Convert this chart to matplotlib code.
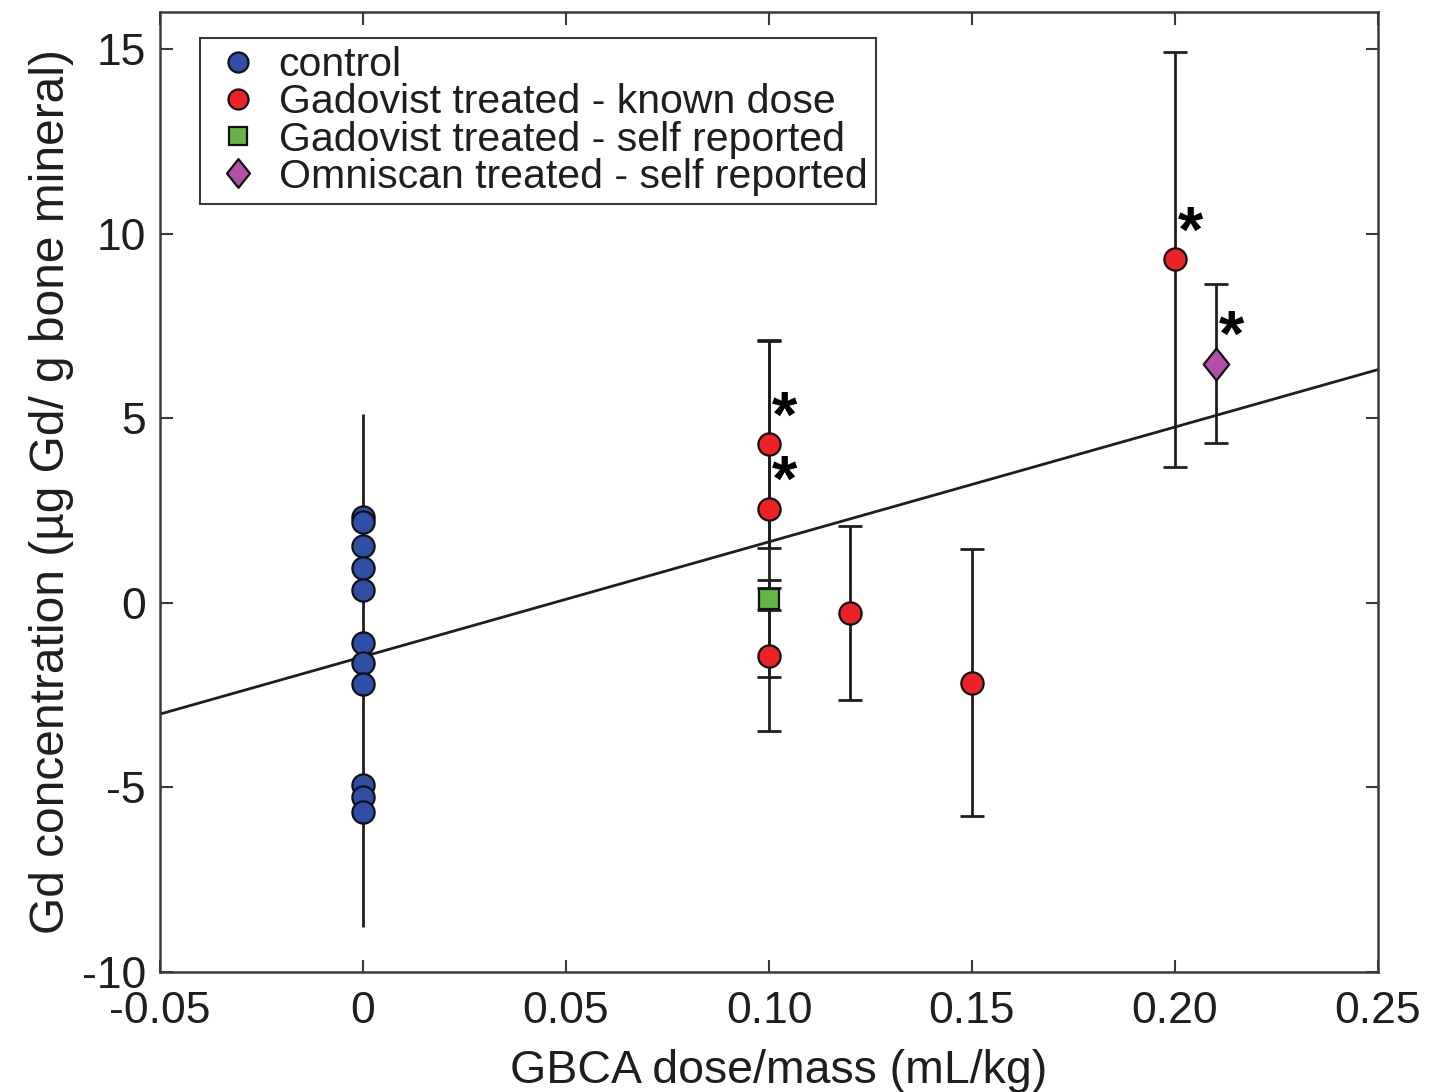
import matplotlib
matplotlib.use("Agg")
import matplotlib.pyplot as plt
from matplotlib.path import Path
import numpy as np

plt.rcParams['font.family'] = ['Liberation Sans', 'DejaVu Sans']

# ---------------- data ----------------
control_x = [0, 0, 0, 0, 0, 0, 0, 0, 0, 0, 0]
control_y = [2.32, 2.19, 1.54, 0.94, 0.35, -1.08, -1.62, -2.21, -4.94, -5.26, -5.68]
control_err_low = -8.78
control_err_high = 5.10

known_x = [0.10, 0.10, 0.10, 0.12, 0.15, 0.20]
known_y = [4.29, 2.55, -1.43, -0.27, -2.16, 9.30]
known_err = [2.80, 4.57, 2.05, 2.35, 3.62, 5.62]

gado_self_x = [0.10]
gado_self_y = [0.11]
gado_self_err = [0.30]

omni_x = [0.21]
omni_y = [6.47]
omni_err = [2.15]

fit_slope = 31.1
fit_intercept = -1.46

# points marked with a star (x, y)
star_x = [0.10, 0.10, 0.20, 0.21]
star_y = [4.29, 2.55, 9.30, 6.47]

xticks = [-0.05, 0, 0.05, 0.10, 0.15, 0.20, 0.25]
xticklabels = ['-0.05', '0', '0.05', '0.10', '0.15', '0.20', '0.25']
yticks = [-10, -5, 0, 5, 10, 15]
yticklabels = ['-10', '-5', '0', '5', '10', '15']

legend_labels = ['control', 'Gadovist treated - known dose',
                 'Gadovist treated - self reported', 'Omniscan treated - self reported']

# ---------------- styles ----------------
c_blue = '#2F4FA6'
c_red = '#EC2226'
c_green = '#64B446'
c_purple = '#B24FA6'
ink = '#1e1e1e'
frame = '#3a3a3a'

fig = plt.figure(figsize=(14.49, 10.92), dpi=100)
ax = fig.add_axes([160/1449, 1 - 972/1092, 1218/1449, 960/1092])

# regression line
xl = np.array([-0.05, 0.25])
ax.plot(xl, fit_intercept + fit_slope * xl, color=ink, lw=2.0, zorder=2)

ebkw = dict(ecolor=ink, elinewidth=2.0, capsize=8.5, capthick=2.0, linestyle='none')

# control group error bar (no caps)
ax.vlines(0, control_err_low, control_err_high, color=ink, lw=2.0, zorder=1)

ax.errorbar(known_x, known_y, yerr=known_err, fmt='none', zorder=1, **ebkw)
ax.errorbar(gado_self_x, gado_self_y, yerr=gado_self_err, fmt='none', zorder=1, **ebkw)
ax.errorbar(omni_x, omni_y, yerr=omni_err, fmt='none', zorder=1, **ebkw)

mk = dict(markeredgecolor='#111111', markeredgewidth=1.6, linestyle='none')
diamond = Path([(0, 1), (0.8, 0), (0, -1), (-0.8, 0), (0, 1)],
               [Path.MOVETO, Path.LINETO, Path.LINETO, Path.LINETO, Path.CLOSEPOLY])

h1, = ax.plot(control_x, control_y, 'o', ms=16, markerfacecolor=c_blue, zorder=3, **mk)
h2, = ax.plot(known_x, known_y, 'o', ms=16, markerfacecolor=c_red, zorder=3, **mk)
h3, = ax.plot(gado_self_x, gado_self_y, 's', ms=15, markerfacecolor=c_green, zorder=3, **mk)
h4, = ax.plot(omni_x, omni_y, marker=diamond, ms=23, markerfacecolor=c_purple, zorder=3, **mk)

for sx, sy in zip(star_x, star_y):
    ax.annotate('*', xy=(sx, sy), xytext=(11.5, 18), textcoords='offset points',
                ha='center', va='center', fontsize=47, fontweight='bold', color='black')

ax.set_xlim(-0.05, 0.25)
ax.set_ylim(-10, 16)
ax.set_xticks(xticks)
ax.set_xticklabels(xticklabels)
ax.set_yticks(yticks)
ax.set_yticklabels(yticklabels)
ax.tick_params(direction='in', length=9, width=1.5, colors=frame, labelcolor=ink,
               labelsize=32, top=True, right=True, pad=10)
ax.tick_params(axis='x', pad=14)
for s in ax.spines.values():
    s.set_linewidth(1.8)
    s.set_color(frame)

ax.set_xlabel('GBCA dose/mass (mL/kg)', fontsize=33.5, color=ink)
ax.xaxis.set_label_coords((779 - 160) / 1218, -(1049 - 972) / 960)
ax.set_ylabel('Gd concentration (\u00b5g Gd/ g bone mineral)', fontsize=34.5, color=ink, labelpad=6)

leg = ax.legend([h1, h2, h3, h4], legend_labels, loc='upper left',
                bbox_to_anchor=(40/1218, 1 - 26/960), borderaxespad=0,
                fontsize=29.5, frameon=True, fancybox=False, framealpha=1,
                edgecolor=frame, handlelength=1.45, handletextpad=0.27,
                borderpad=0.2, labelspacing=-0.02, markerscale=0.9)
leg.get_frame().set_linewidth(1.5)
for t in leg.get_texts():
    t.set_color(ink)

fig.savefig('out.png', dpi=100)
